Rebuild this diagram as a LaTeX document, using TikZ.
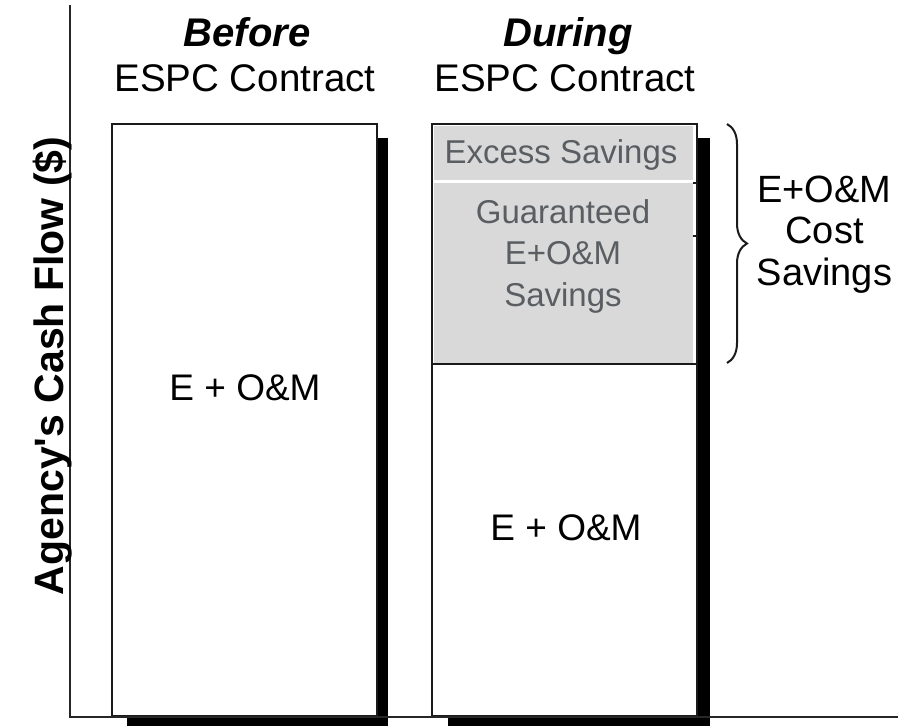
\documentclass[tikz,border=0pt]{standalone}
\usepackage{fontspec}
\setmainfont{Liberation Sans}
\usetikzlibrary{decorations.pathreplacing}

\definecolor{savfill}{HTML}{D9D9D9}
\definecolor{savtext}{HTML}{5A5E62}
\definecolor{edge}{HTML}{1A1A1A}

\tikzset{
  heading/.style={font=\fontsize{40}{46}\selectfont\bfseries\itshape, anchor=base, inner sep=0},
  subheading/.style={font=\fontsize{38.5}{46}\selectfont, anchor=base, inner sep=0},
  barlabel/.style={font=\fontsize{37}{44}\selectfont, anchor=base, inner sep=0},
  savlabel/.style={font=\fontsize{33}{41.5}\selectfont, text=savtext, align=center, anchor=base, inner sep=0},
  bracelabel/.style={font=\fontsize{38}{41.5}\selectfont, align=center, anchor=base, inner sep=0},
  axislabel/.style={font=\fontsize{41}{46}\selectfont\bfseries, rotate=90, anchor=base, inner sep=0},
  barbox/.style={draw=edge, line width=2.5pt, fill=white},
  dropshadow/.style={fill=black},
  axisline/.style={draw=black!85, line width=2.5pt},
}

\begin{document}
\begin{tikzpicture}[x=1pt, y=-1pt]
\useasboundingbox (0,0) rectangle (898,726);

% drop shadows behind the two bars
\fill[dropshadow] (127,138) rectangle (388,726);
\fill[dropshadow] (448,138) rectangle (710,726);

% bar before the contract
\draw[barbox] (112,124) rectangle (377,716);

% bar during the contract, with the savings blocks on top
\draw[barbox] (432,124) rectangle (697,716);
\fill[savfill] (433.5,125.5) rectangle (693,180);
\fill[savfill] (433.5,182.5) rectangle (693,363);
\draw[edge, line width=2.5pt] (432,364) -- (697,364);
\draw[edge, line width=1.4pt] (693,183) -- (697,183);
\draw[edge, line width=1.4pt] (693,236) -- (697,236);

% axes
\draw[axisline] (70,5) -- (70,717) -- (898,717);

% column headings
\node[heading] (hbefore) at (247,46) {Before};
\node[subheading] (sbefore) at (245,91) {ESPC Contract};
\node[heading] (hduring) at (568,46) {During};
\node[subheading] (sduring) at (565,91) {ESPC Contract};

% bar texts (multi-line nodes sit on the baseline of their last line)
\node[barlabel] (eom1) at (245,400) {E + O\&M};
\node[barlabel] (eom2) at (566,540) {E + O\&M};
\node[savlabel] (excess) at (561,163) {Excess Savings};
\node[savlabel] (guar) at (563,306) {Guaranteed\\E+O\&M\\Savings};

% brace over the savings with its label
\coordinate (brtop) at (727,124);
\coordinate (brbot) at (727,363);
\draw[edge, line width=2pt, decorate, decoration={brace, amplitude=20pt}] (brtop) -- (brbot);
\node[bracelabel] (costsav) at (824.5,285) {E+O\&M\\Cost\\Savings};

% vertical axis title
\node[axislabel] (ylabel) at (63,366) {Agency\textquotesingle s Cash Flow (\$)};
\end{tikzpicture}
\end{document}
